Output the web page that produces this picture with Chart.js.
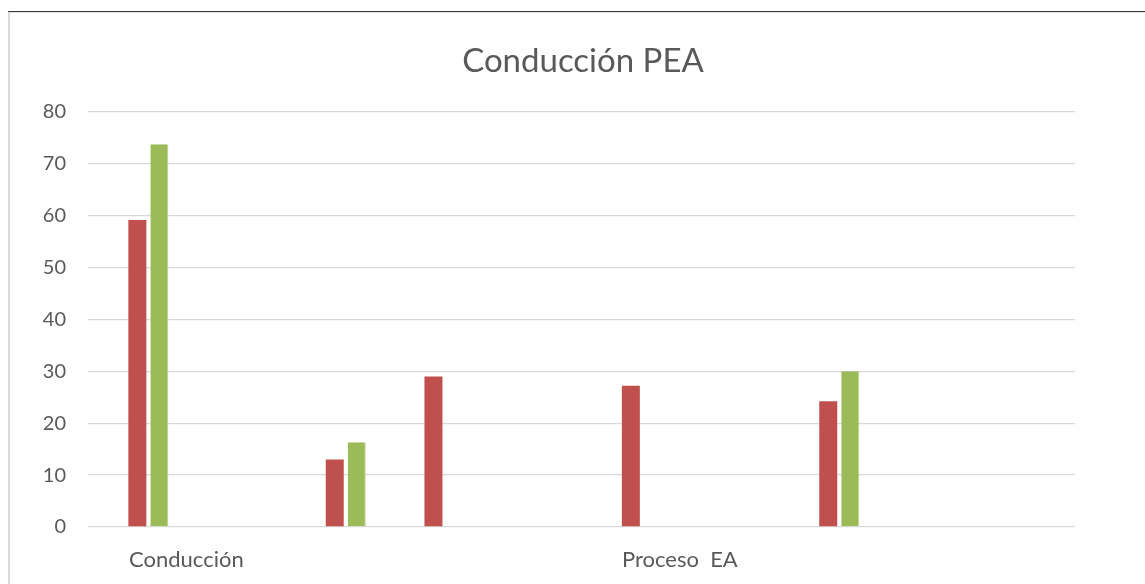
<!DOCTYPE html>
<html>
<head>
<meta charset="utf-8">
<title>Conducción PEA</title>
<script src="https://cdn.jsdelivr.net/npm/chart.js@4.4.1/dist/chart.umd.min.js"></script>
<style>
  html, body { margin: 0; padding: 0; background: #fff; }
  #caja { position: relative; width: 1145px; height: 584px; overflow: hidden; }
  #marco { position: absolute; left: 8px; top: 11px; right: -4px; bottom: -4px; border-top: 1px solid #3a3a3a; }
  #marco div { position: absolute; left: 0; top: 0; right: 0; bottom: 0; border-top: 1px solid #e2e2e2; border-left: 2px solid #d9d9d9; }
  canvas { position: absolute; left: 0; top: 0; }
</style>
</head>
<body>
<div id="caja">
  <div id="marco"><div></div></div>
  <canvas id="grafica"></canvas>
</div>
<script>
// Datos
const categorias = ['Conducción', '', '', '', '', 'Proceso  EA', '', '', '', ''];
const serieVacia = [null, null, null, null, null, null, null, null, null, null];
const serieRoja = [59.1, null, 13, 29, null, 27.2, null, 24.2, null, null];
const serieVerde = [73.7, null, 16.3, null, null, null, null, 30, null, null];
const ticksY = [0, 10, 20, 30, 40, 50, 60, 70, 80];

const gris = '#595959';
const fuente = 'Lato';

const chart = new Chart(document.getElementById('grafica'), {
  type: 'bar',
  data: {
    labels: categorias,
    datasets: [
      { label: 'Serie 1', data: serieVacia, backgroundColor: '#4F81BD' },
      { label: 'Serie 2', data: serieRoja, backgroundColor: '#C0504D' },
      { label: 'Serie 3', data: serieVerde, backgroundColor: '#9BBB59', borderColor: '#B9D08A', borderWidth: { right: 1, top: 0, left: 0, bottom: 0 } }
    ]
  },
  options: {
    animation: false,
    responsive: true,
    maintainAspectRatio: false,
    categoryPercentage: 0.669,
    barPercentage: 0.818,
    layout: { padding: { left: 21, right: 0, top: 0, bottom: 0 } },
    plugins: {
      legend: { display: false },
      tooltip: { enabled: false },
      title: {
        display: true,
        text: 'Conducción PEA',
        color: gris,
        font: { family: fuente, size: 33, weight: 'normal' },
        padding: { top: 42, bottom: 30 }
      }
    },
    scales: {
      x: {
        grid: { display: false, drawTicks: false },
        border: { display: false },
        ticks: {
          autoSkip: false,
          maxRotation: 0,
          labelOffset: 49,
          padding: 20,
          color: gris,
          font: { family: fuente, size: 22 }
        },
        afterFit: s => { s.height = 57; }
      },
      y: {
        min: 0,
        max: 80,
        afterBuildTicks: s => { s.ticks = ticksY.map(v => ({ value: v })); },
        grid: { color: '#D9D9D9', lineWidth: 1.3, drawTicks: false },
        border: { display: false },
        ticks: {
          padding: 22,
          color: gris,
          font: { family: fuente, size: 20 }
        },
        afterFit: s => { s.width = 67; }
      },
      y2: {
        type: 'linear',
        position: 'right',
        grid: { display: false, drawTicks: false },
        border: { display: false },
        ticks: { display: false },
        afterFit: s => { s.width = 70; }
      }
    }
  }
});
</script>
</body>
</html>
